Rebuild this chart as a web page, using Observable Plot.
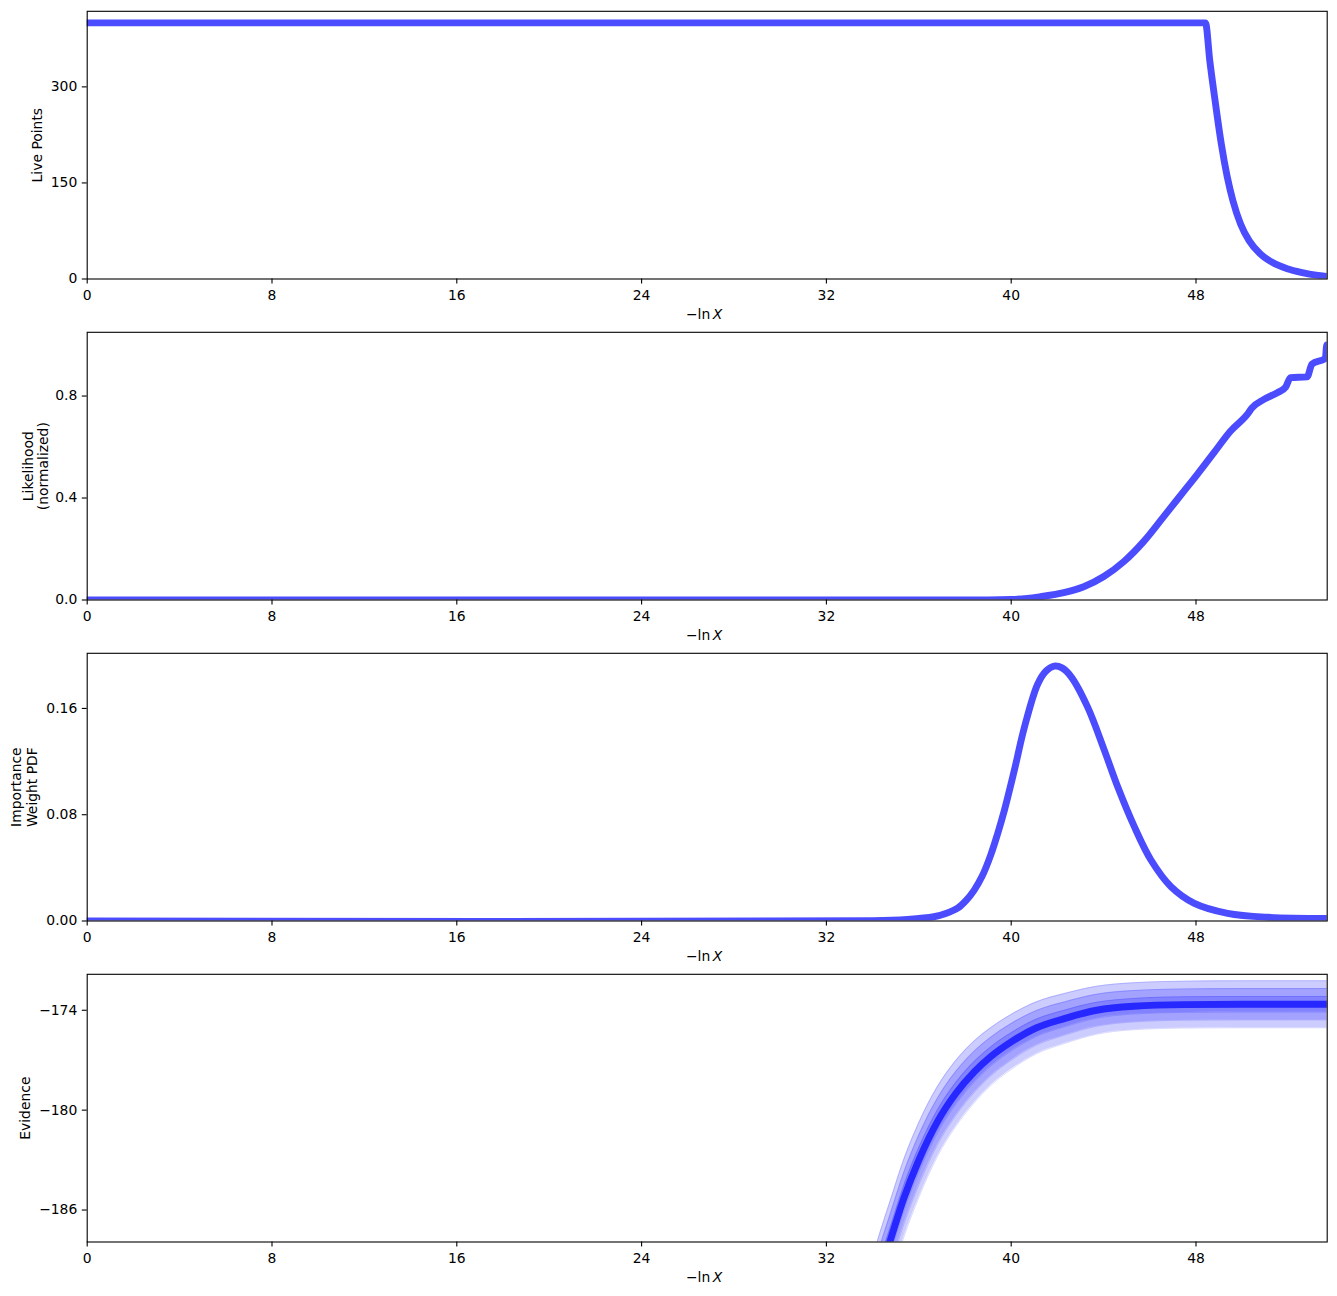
<!DOCTYPE html>
<html>
<head>
<meta charset="utf-8">
<script src="https://cdn.jsdelivr.net/npm/d3@7"></script>
<script src="https://cdn.jsdelivr.net/npm/@observablehq/plot@0.6"></script>
<style>
  html, body { margin: 0; padding: 0; background: white; }
  #chart svg { display: block; }
</style>
</head>
<body>
<div id="chart"></div>
<script>
// ---------- data ----------
const xTicks = [0, 8, 16, 24, 32, 40, 48];
const xMax = 53.68;

// Panel 1: live points
const liveX = [0, 48.41, 48.6, 48.84, 49.1, 49.35, 49.6, 49.93, 50.3, 50.79, 51.3, 51.95, 52.6, 53.2, 53.68];
const liveY = [400, 400, 340, 275, 210, 160, 122, 86, 60, 39, 26, 16, 10, 6, 4];
const liveTicks = [0, 150, 300];

// Panel 2: normalized likelihood
const likeX = [0, 38, 40.0, 40.7, 41.27, 42.28, 43.14, 44.01, 44.88, 45.74, 46.61, 47.47, 48.05, 48.77, 49.49, 50.22, 50.43, 50.94, 51.52, 51.88, 52.09, 52.81, 53.02, 53.6, 53.66, 53.68];
const likeY = [0, 0, 0.002, 0.006, 0.013, 0.029, 0.052, 0.092, 0.151, 0.23, 0.328, 0.426, 0.492, 0.577, 0.662, 0.728, 0.754, 0.787, 0.813, 0.835, 0.872, 0.875, 0.925, 0.948, 1.0, 1.0];
const likeTicks = [0, 0.4, 0.8];

// Panel 3: importance weight PDF
const wtX = [0, 34.0, 35.5, 36.65, 37.2, 37.68, 38.05, 38.40, 38.75, 39.12, 39.40, 39.70, 40.13, 40.56, 41.14, 41.5, 41.86, 42.2, 42.59, 43.31, 44.03, 44.61, 45.33, 46.05, 46.92, 47.93, 49.37, 51.11, 53.68];
const wtY = [0, 0.0002, 0.0012, 0.0032, 0.0058, 0.0096, 0.0155, 0.0233, 0.034, 0.050, 0.065, 0.083, 0.113, 0.145, 0.178, 0.188, 0.1918, 0.1905, 0.184, 0.161, 0.1286, 0.101, 0.071, 0.0459, 0.0258, 0.0133, 0.0058, 0.0028, 0.002];
const wtTicks = [0, 0.08, 0.16];

// Panel 4: evidence (ln Z) with its 1-sigma error
const evX = [32.5, 33.5, 34.2, 34.75, 35.35, 36.0, 36.8, 37.6, 38.4, 39.1, 40.0, 41.1, 42.3, 43.7, 45.3, 47.5, 50.0, 53.68];
const evZ = [-199, -194, -190.3, -187.9, -185.3, -183.0, -180.7, -179.0, -177.7, -176.8, -175.9, -175.05, -174.5, -174.0, -173.76, -173.66, -173.64, -173.64];
const evErr = [0.8, 0.8, 0.8, 0.8, 0.78, 0.75, 0.7, 0.66, 0.62, 0.58, 0.55, 0.52, 0.5, 0.48, 0.47, 0.47, 0.47, 0.47];
const evTicks = [-186, -180, -174];

const labels = ["Live Points", "Likelihood\n(normalized)", "Importance\nWeight PDF", "Evidence"];

// ---------- drawing ----------
const lineColor = "blue";
const lw = 6.9;

function rows(xs, ys) { return xs.map((x, i) => ({x, y: ys[i]})); }

function panel({yDomain, yTicks, tickFormat, label, labelDx, marks}) {
  return Plot.plot({
    width: 1337,
    height: 321,
    marginLeft: 86.7,
    marginRight: 10.3,
    marginTop: 10.8,
    marginBottom: 42.5,
    style: {fontFamily: "DejaVu Sans", fontSize: "13.9px", background: "white", color: "black", overflow: "visible"},
    x: {domain: [0, xMax]},
    y: {domain: yDomain},
    marks: [
      ...marks,
      Plot.axisX({ticks: xTicks, tickSize: 4.9, tickPadding: 6, label: null, tickFormat: d => String(d), strokeWidth: 1.1}),
      Plot.axisY({ticks: yTicks, tickSize: 4.9, tickPadding: 5, label: null, tickFormat, strokeWidth: 1.1}),
      Plot.frame({stroke: "black", strokeWidth: 1.1}),
      Plot.text([label], {text: d => d, frameAnchor: "left", rotate: -90, dx: labelDx, lineHeight: 1.12, textAnchor: "middle", lineAnchor: "middle"}),
      Plot.text(["\u2212ln"], {text: d => d, frameAnchor: "bottom", dy: 36, dx: 3, textAnchor: "end", lineAnchor: "middle"}),
      Plot.text(["X"], {text: d => d, frameAnchor: "bottom", dy: 36, dx: 5.5, textAnchor: "start", lineAnchor: "middle", fontStyle: "italic"})
    ]
  });
}

const chart = document.getElementById("chart");

chart.appendChild(panel({
  yDomain: [0, 418], yTicks: liveTicks, tickFormat: d => String(d), label: labels[0], labelDx: -49.7,
  marks: [Plot.line(rows(liveX, liveY), {x: "x", y: "y", stroke: lineColor, strokeOpacity: 0.7, strokeWidth: lw, curve: "monotone-x", clip: true})]
}));

chart.appendChild(panel({
  yDomain: [0, 1.05], yTicks: likeTicks, tickFormat: d => d.toFixed(1), label: labels[1], labelDx: -51.7,
  marks: [Plot.line(rows(likeX, likeY), {x: "x", y: "y", stroke: lineColor, strokeOpacity: 0.7, strokeWidth: lw, curve: "monotone-x", clip: true})]
}));

chart.appendChild(panel({
  yDomain: [0, 0.2015], yTicks: wtTicks, tickFormat: d => d.toFixed(2), label: labels[2], labelDx: -63.4,
  marks: [Plot.line(rows(wtX, wtY), {x: "x", y: "y", stroke: lineColor, strokeOpacity: 0.7, strokeWidth: lw, curve: "catmull-rom", clip: true})]
}));

const ev = evX.map((x, i) => ({x, z: evZ[i], s: evErr[i]}));
const evMarks = [];
for (const k of [3, 2, 1]) {
  evMarks.push(Plot.areaY(ev, {x: "x", y1: d => d.z - k * d.s, y2: d => d.z + k * d.s, fill: "blue", fillOpacity: 0.2, curve: "monotone-x", clip: true}));
  evMarks.push(Plot.line(ev, {x: "x", y: d => d.z - k * d.s, stroke: "blue", strokeOpacity: 0.15, strokeWidth: 1, curve: "monotone-x", clip: true}));
  evMarks.push(Plot.line(ev, {x: "x", y: d => d.z + k * d.s, stroke: "blue", strokeOpacity: 0.15, strokeWidth: 1, curve: "monotone-x", clip: true}));
}
evMarks.push(Plot.line(ev, {x: "x", y: "z", stroke: lineColor, strokeOpacity: 0.7, strokeWidth: lw, curve: "monotone-x", clip: true}));

chart.appendChild(panel({
  yDomain: [-187.92, -171.84], yTicks: evTicks, tickFormat: d => (d < 0 ? "\u2212" : "") + Math.abs(d), label: labels[3], labelDx: -61.7,
  marks: evMarks
}));
</script>
</body>
</html>
